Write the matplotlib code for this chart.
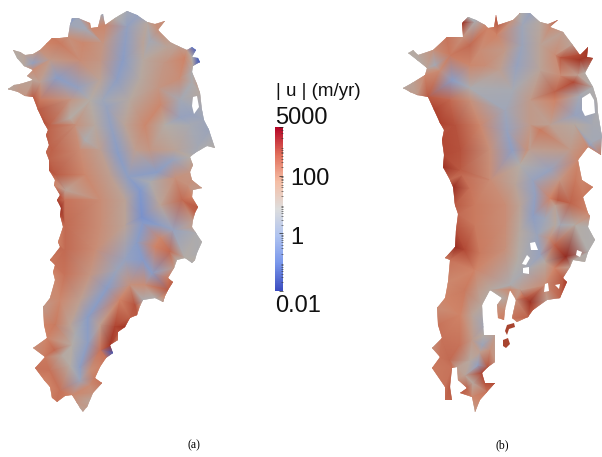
import numpy as np
import matplotlib
matplotlib.use("Agg")
import matplotlib.pyplot as plt
import matplotlib.tri as mtri
from matplotlib.cm import ScalarMappable
from matplotlib.colors import LinearSegmentedColormap, LogNorm, Normalize
from matplotlib.patches import Polygon

# all map values: (x px, y px, log10 speed)
outline_a = [
 (8,89,1.0),(14,85,1.1),(20,84,1.2),(33,80,1.1),(27,76,1.3),(33,70,1.6),(24,66,1.0),(17,58,0.9),(13,50,1.0),(20,52,1.0),
 (25,55,1.1),(33,54,1.2),(40,50,1.5),(47,43,1.8),(52,38,1.9),(60,38,1.7),(68,37,1.5),(70,25,0.4),(72,18,0.2),(78,18,0.4),
 (90,23,1.7),(91,28,1.7),(98,27,1.7),(101,15,0.6),(103,14,0.3),(105,25,1.7),(115,18,0.9),(120,15,0.8),(127,11,0.5),(137,15,0.1),
 (147,22,1.0),(155,24,1.5),(165,21,1.6),(158,30,1.5),(170,42,1.2),(178,46,1.2),(187,50,1.3),(192,47,-0.8),(196,50,-1.4),(192,57,0.9),
 (198,58,-1.5),(200,62,-1.5),(193,66,1.0),(192,72,0.7),(197,84,1.2),(200,93,1.0),(202,110,0.5),(204,120,0.4),(209,130,0.3),(215,148,0.9),
 (207,146,0.7),(200,150,0.7),(195,153,0.6),(190,157,0.9),(193,165,1.3),(190,172,1.4),(192,180,1.5),(202,188,1.4),(193,190,1.3),(192,197,1.8),
 (198,207,2.3),(195,213,2.2),(193,220,1.3),(192,227,1.2),(196,233,0.7),(202,242,0.8),(197,253,0.7),(195,260,0.9),(192,263,0.7),(185,258,0.9),
 (177,260,0.9),(174,268,1.3),(168,278,1.9),(173,282,2.2),(168,290,2.3),(165,296,1.7),(163,302,1.2),(155,298,0.8),(143,300,0.7),(140,306,1.6),
 (137,315,2.3),(130,318,2.2),(125,327,2.8),(118,332,2.4),(118,340,1.9),(110,345,2.8),(113,353,-1.6),(106,358,2.0),(100,367,1.8),(95,378,1.9),
 (102,383,2.0),(93,393,1.5),(90,400,1.1),(87,407,1.3),(83,412,1.2),(80,408,1.2),(77,403,1.4),(72,395,1.7),(65,396,1.9),(57,402,2.0),
 (52,398,1.9),(50,387,1.8),(44,380,1.8),(35,368,2.0),(45,357,1.9),(33,348,1.5),(47,338,1.8),(44,325,1.8),(43,307,1.3),(50,298,1.6),
 (55,280,1.7),(53,272,1.8),(55,265,2.0),(50,260,1.9),(60,247,2.1),(58,242,1.8),(63,227,2.0),(60,215,2.6),(61,208,2.9),(57,200,2.6),
 (60,195,2.4),(54,185,1.8),(55,180,1.9),(49,170,2.4),(49,160,2.2),(46,152,2.1),(49,145,2.2),(46,135,2.3),(48,130,2.2),(44,123,2.4),
 (38,110,2.3),(33,97,2.3),(25,96,1.4),(18,92,1.3),
]
field_a = [
 (60,43,1.9),(83,43,1.7),(103,43,1.4),(143,43,1.1),(167,47,1.1),
 (50,60,1.3),(80,60,1.6),(100,60,1.4),(143,60,1.0),(165,62,1.4),(185,58,1.8),
 (40,82,1.2),(100,80,1.1),(140,80,1.0),(158,88,1.4),(180,78,1.6),(192,82,0.7),
 (40,100,1.9),(70,100,1.4),(90,100,0.9),(130,100,1.0),(160,105,1.7),(180,100,0.5),(196,110,0.4),
 (50,125,2.2),(75,125,1.5),(95,125,1.0),(125,125,1.1),(145,125,1.7),(165,125,0.9),(190,125,0.6),
 (52,150,2.2),(80,150,1.6),(100,150,1.2),(135,150,1.2),(150,150,1.4),(175,150,1.1),(198,145,0.5),
 (55,175,2.3),(85,175,1.7),(110,175,1.2),(150,182,0.7),(175,178,1.5),(188,185,1.5),
 (65,200,2.0),(100,200,1.6),(125,200,1.1),(160,205,1.1),(182,200,2.1),
 (65,225,2.1),(100,225,1.6),(125,225,1.1),(160,238,1.7),
 (65,250,2.1),(95,250,1.6),(155,247,1.8),(170,252,2.1),
 (65,275,2.0),(90,275,1.4),(130,285,1.5),(145,285,1.6),
 (60,300,1.7),(80,300,1.2),(120,300,1.8),(135,305,2.4),
 (55,325,1.9),(70,325,1.1),(100,325,1.2),(115,327,2.6),
 (55,350,2.1),(72,345,0.9),(100,350,2.0),
 (50,370,2.0),(70,365,0.9),(90,370,1.5),
 (60,390,2.0),(90,385,1.6),
]
ridges_a = [
 (127,27,0.1),(123,60,-0.1),(117,80,0.0),(107,107,0.2),(112,130,0.1),(118,153,-0.1),(128,177,0.0),(140,190,-0.3),(142,217,-0.5),
 (143,223,-0.2),(137,243,-0.1),(143,260,-0.2),(152,273,-0.1),(160,225,0.0),(173,230,0.2),(125,260,0.2),(117,270,0.3),(107,288,-0.1),
 (88,317,-0.1),(88,343,0.0),(80,367,0.0),(80,380,0.3),(157,172,-0.1),(172,160,0.2),
 (33,63,0.1),(57,78,-0.1),(78,88,0.1),(103,100,0.4),(72,20,-0.1),(87,30,0.5),(137,17,0.2),(150,40,0.5),(190,115,0.2),(180,118,0.2),
 (70,118,0.9),(85,140,0.7),(65,190,1.1),(62,355,1.0),(75,335,0.7),
]

outline_b = [
 (403,88,1.0),(412,83,1.1),(425,75,1.7),(427,68,1.1),(417,60,0.9),(408,53,0.9),(413,50,0.9),(418,55,1.0),(433,50,1.5),(447,37,2.0),
 (463,37,1.5),(462,24,2.8),(463,22,2.9),(468,17,0.8),(476,20,0.6),(485,25,1.6),(488,28,1.8),(494,27,2.0),(496,15,2.5),(498,25,2.2),
 (513,20,1.4),(520,13,0.9),(530,13,0.2),(540,22,1.0),(548,24,1.4),(558,20,2.4),(550,27,1.6),(563,32,1.2),(572,44,1.1),(580,55,2.5),
 (588,47,2.8),(587,57,2.8),(593,58,2.6),(585,73,0.9),(593,87,0.8),(597,100,0.8),(598,113,0.7),(602,137,0.5),(601,155,1.9),(588,147,1.7),
 (578,160,1.7),(582,180,1.7),(593,187,1.9),(583,197,1.9),(588,213,1.7),(590,216,1.6),(588,227,0.8),(595,240,0.8),(588,252,0.8),(585,262,0.9),
 (573,260,1.0),(570,267,1.2),(563,278,2.3),(567,282,2.7),(560,298,2.2),(547,300,1.2),(533,310,2.3),(528,317,2.2),(517,322,1.7),(512,318,2.0),
 (516,300,1.5),(510,290,1.7),(505,310,1.6),(504,320,1.9),(498,318,1.8),(497,305,1.4),(502,298,0.9),(490,290,1.0),(482,305,1.0),(484,335,0.9),
 (495,335,1.2),(495,362,1.4),(488,367,2.4),(482,373,2.6),(485,383,2.4),(495,383,2.5),(487,392,2.0),(480,400,1.8),(475,412,1.3),(472,397,1.7),
 (460,393,2.3),(467,388,2.2),(458,380,1.5),(457,367,1.2),(452,368,2.0),(450,387,2.3),(452,400,2.2),(445,400,2.1),(445,387,2.0),(432,368,1.9),
 (440,357,2.0),(432,348,1.5),(442,338,2.0),(438,325,2.0),(437,308,1.6),(445,298,1.8),(448,282,1.7),(450,260,2.0),(445,258,1.9),(455,247,3.0),
 (456,230,2.4),(458,214,2.1),(455,205,2.3),(453,187,3.0),(450,180,2.1),(443,167,2.9),(444,155,2.5),(442,140,2.5),(444,130,2.4),(440,123,2.6),
 (434,110,2.6),(428,97,2.3),(417,95,1.3),(410,92,1.2),
]
field_b = [
 (450,55,1.9),(480,50,1.6),(505,50,1.3),(540,45,1.1),(555,55,1.6),
 (440,70,1.6),(470,65,1.7),(500,70,1.2),(540,70,1.1),(560,75,1.6),(578,75,1.2),
 (450,100,2.1),(470,100,1.5),(530,100,1.3),(555,100,1.8),(580,95,0.6),
 (455,125,2.4),(480,125,1.7),(530,125,1.3),(550,125,1.2),(575,125,1.0),(592,125,0.6),
 (460,150,2.4),(490,150,1.5),(530,150,1.2),(570,150,1.3),(592,142,0.5),
 (462,175,2.1),(490,180,1.6),(515,185,1.1),(560,180,1.4),(575,180,1.9),
 (475,205,1.9),(505,205,1.6),(520,205,1.1),(555,205,1.2),(570,203,2.2),
 (475,225,1.9),(505,225,1.6),(520,230,1.0),(555,225,1.0),(575,225,0.9),
 (475,270,1.8),(505,250,1.5),(518,260,0.9),(545,262,1.0),
 (465,290,1.9),(478,290,1.3),(520,290,1.2),(545,285,1.6),
 (460,315,1.8),(472,315,1.1),(515,300,1.5),(525,298,2.4),
 (460,345,2.0),(472,340,1.3),(490,350,1.5),
 (450,360,2.1),(470,360,1.0),(480,352,1.2),
 (465,375,1.1),(473,383,1.0),
]
ridges_b = [
 (522,25,0.4),(522,45,0.3),(517,65,0.2),(513,90,0.6),(505,110,0.4),(507,130,0.2),(512,150,0.0),(520,165,0.9),(533,180,0.2),(550,170,0.2),
 (535,195,0.1),(533,215,0.0),(537,235,0.3),(545,218,0.4),(560,225,0.5),(540,255,0.2),(525,270,0.6),(510,285,0.7),(485,325,0.4),(482,345,0.3),(478,365,0.1),
 (435,65,0.5),(452,80,-0.1),(470,88,0.7),(475,22,0.7),(590,105,0.3),(575,115,0.2),(590,145,0.2),
]
streaks_b = [
 (470,45,2.1),(485,65,1.6),(497,35,1.8),(580,60,2.8),(560,58,2.3),(574,82,2.5),(555,92,2.2),(540,130,1.9),(527,150,1.5),
 (480,253,1.9),(465,250,2.5),(470,188,2.0),(460,170,2.3),(550,198,1.8),(558,200,2.3),
 (566,257,3.1),(555,245,2.2),(550,238,1.5),(555,268,1.8),(530,302,2.9),(522,295,1.9),
]
# small pieces left off the main body in (b), and gaps in each body
islands_b = [
 [(507,325),(514,323),(515,327),(509,329),(507,335),(505,331)],
 [(503,340),(508,338),(510,344),(506,348),(503,346)],
]
holes_a = [[(193,97),(197,96),(199,107),(194,114),(192,106)]]
holes_b = [
 [(582,98),(590,93),(594,100),(595,113),(585,116),(582,110)],
 [(530,243),(535,242),(538,250),(531,250)],
 [(527,255),(530,258),(526,265),(522,264)],
 [(523,268),(529,267),(529,274),(523,273)],
 [(545,284),(548,283),(549,291),(544,292)],
 [(577,250),(582,252),(580,257),(576,255)],
 [(555,285),(560,284),(559,289)],
]

bar_ticks = [0.01, 1, 100, 5000]
bar_labels = ["0.01", "1", "100", "5000"]
panel_labels = ["(a)", "(b)"]

map_colors = [(-2,"#2a3fb0"),(-0.4,"#7e97cf"),(0.85,"#b2aeaa"),(1.8,"#cf8468"),(2.7,"#aa3a28"),(3.7,"#701010")]
bar_colors = [(59,76,192),(120,150,235),(175,195,240),(221,221,221),(245,190,165),(225,110,90),(180,4,38)]

vmin, vmax = -2, 3.7
map_cmap = LinearSegmentedColormap.from_list("map", [((v-vmin)/(vmax-vmin),c) for v,c in map_colors])
bar_cmap = LinearSegmentedColormap.from_list("bar", [tuple(i/255 for i in c) for c in bar_colors])

fig = plt.figure(figsize=(6.02,4.57), dpi=100)
ax = fig.add_axes([0,0,1,1])
ax.set_xlim(0,602)
ax.set_ylim(457,0)
ax.axis("off")

def draw_body(outline, extra, holes, islands=()):
    pts = np.array(outline+extra, dtype=float)
    tri = mtri.Triangulation(pts[:,0], pts[:,1])
    shape = Polygon(np.array(outline)[:,:2], closed=True, transform=ax.transData, fc="none", ec="none")
    ax.add_patch(shape)
    m = ax.tripcolor(tri, pts[:,2], shading="gouraud", cmap=map_cmap, norm=Normalize(vmin,vmax), zorder=2)
    m.set_clip_path(shape)
    for h in holes:
        ax.add_patch(Polygon(h, closed=True, fc="white", ec="none", zorder=3))
    for i in islands:
        ax.add_patch(Polygon(i, closed=True, fc="#a8442f", ec="none", zorder=3))

draw_body(outline_a, field_a+ridges_a, holes_a)
draw_body(outline_b, field_b+ridges_b+streaks_b, holes_b, islands_b)

# colour bar, placed in figure fractions from the pixel box
cax = fig.add_axes([275/602, 1-291/457, 8/602, 164/457])
cb = fig.colorbar(ScalarMappable(norm=LogNorm(0.01,5000), cmap=bar_cmap), cax=cax)
cb.outline.set_visible(False)
cb.set_ticks(bar_ticks)
cb.set_ticklabels([])
cax.tick_params(which="major", direction="in", length=3, width=0.5, color="#222222")
cax.tick_params(which="minor", direction="in", length=1.5, width=0.4, color="#333333")

font = "Liberation Sans"
ax.text(276,91,"| u | (m/yr)",fontsize=13.5,family=font,va="center",ha="left",color="#111111")
label_x = [275,290,290,275]
label_y = [306,238,179,118]
for s,x,y in zip(bar_labels,label_x,label_y):
    ax.text(x,y,s,fontsize=17,family=font,va="center",ha="left",color="#111111")
for s,x in zip(panel_labels,[194,502]):
    ax.text(x,445,s,fontsize=8.5,family="Liberation Serif",va="center",ha="center",color="black")

fig.savefig("out.png", dpi=100)
